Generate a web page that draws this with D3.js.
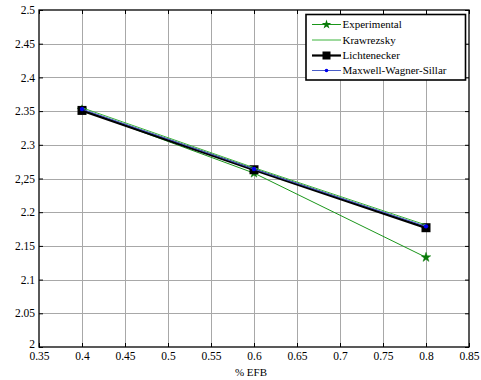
<!DOCTYPE html>
<html>
<head>
<meta charset="utf-8">
<script src="https://cdn.jsdelivr.net/npm/d3@7"></script>
<style>
  html, body { margin: 0; padding: 0; background: #fff; }
</style>
</head>
<body>
<svg id="chart" width="481" height="380"></svg>
<script>
// Dielectric model comparison against % EFB
const efb = [0.4, 0.6, 0.8];
const experimental = [2.352, 2.258, 2.133];
const krawrezsky = [2.355, 2.266, 2.181];
const lichtenecker = [2.351, 2.263, 2.177];
const maxwellWagnerSillar = [2.353, 2.264, 2.179];

const xTicks = [0.35, 0.4, 0.45, 0.5, 0.55, 0.6, 0.65, 0.7, 0.75, 0.8, 0.85];
const xTickLabels = ["0.35", "0.4", "0.45", "0.5", "0.55", "0.6", "0.65", "0.7", "0.75", "0.8", "0.85"];
const yTicks = [2, 2.05, 2.1, 2.15, 2.2, 2.25, 2.3, 2.35, 2.4, 2.45, 2.5];
const yTickLabels = ["2", "2.05", "2.1", "2.15", "2.2", "2,25", "2.3", "2.35", "2.4", "2.45", "2.5"];
const seriesNames = ["Experimental", "Krawrezsky", "Lichtenecker", "Maxwell-Wagner-Sillar"];

const FONT = "'Liberation Serif', 'Times New Roman', serif";

const svg = d3.select("#chart");
const L = 39, R = 469, T = 10, B = 347;

const x = d3.scaleLinear().domain([0.35, 0.85]).range([L, R]);
const y = d3.scaleLinear().domain([2, 2.5]).range([B, T]);

// grid
const grid = svg.append("g");
grid.selectAll("line.gx").data(xTicks.slice(1, -1)).enter().append("line")
  .attr("x1", d => Math.round(x(d)) + 0.5).attr("x2", d => Math.round(x(d)) + 0.5)
  .attr("y1", T).attr("y2", B)
  .attr("stroke", "#a8a8a8").attr("stroke-width", 1);
grid.selectAll("line.gy").data(yTicks.slice(1, -1)).enter().append("line")
  .attr("y1", d => Math.round(y(d)) + 0.5).attr("y2", d => Math.round(y(d)) + 0.5)
  .attr("x1", L).attr("x2", R)
  .attr("stroke", "#a8a8a8").attr("stroke-width", 1);

// axes with inward ticks
const fmtX = d => xTickLabels[xTicks.indexOf(d)];
const fmtY = d => yTickLabels[yTicks.indexOf(d)];

const axB = svg.append("g").attr("transform", `translate(0,${B})`)
  .call(d3.axisBottom(x).tickValues(xTicks).tickFormat(fmtX).tickSizeInner(-4).tickSizeOuter(0).tickPadding(8));
const axT = svg.append("g").attr("transform", `translate(0,${T})`)
  .call(d3.axisTop(x).tickValues(xTicks).tickFormat("").tickSizeInner(-4).tickSizeOuter(0));
const axL = svg.append("g").attr("transform", `translate(${L},0)`)
  .call(d3.axisLeft(y).tickValues(yTicks).tickFormat(fmtY).tickSizeInner(-4).tickSizeOuter(0).tickPadding(4));
const axR = svg.append("g").attr("transform", `translate(${R},0)`)
  .call(d3.axisRight(y).tickValues(yTicks).tickFormat("").tickSizeInner(-4).tickSizeOuter(0));

[axB, axT, axL, axR].forEach(a => {
  a.select(".domain").remove();
  a.attr("font-family", null).attr("font-size", null);
  a.selectAll("line").attr("stroke", "#000");
  a.selectAll("text").style("font-family", FONT).style("font-size", "11.5px").attr("fill", "#000");
});
axL.selectAll("text").attr("dy", "0.32em");
axL.selectAll("text").filter(d => d === 2).attr("dy", "0.05em");
axB.selectAll("text").attr("dy", "0.45em");

// frame
svg.append("rect").attr("x", L).attr("y", T).attr("width", R - L).attr("height", B - T)
  .attr("fill", "none").attr("stroke", "#000").attr("stroke-width", 1.3);

// x label
svg.append("text").attr("x", (L + R) / 2 - 3).attr("y", 376).attr("text-anchor", "middle")
  .style("font-family", FONT).style("font-size", "11px").text("% EFB");

// series
const line = d3.line().x(d => x(d[0])).y(d => y(d[1]));
const zipped = vals => efb.map((e, i) => [e, vals[i]]);
const star = d3.symbol().type(d3.symbolStar).size(28);

function drawSeries(vals, color, width) {
  svg.append("path").datum(zipped(vals)).attr("d", line)
    .attr("fill", "none").attr("stroke", color).attr("stroke-width", width);
}

drawSeries(experimental, "#1a961a", 1);
svg.selectAll("path.star").data(zipped(experimental)).enter().append("path")
  .attr("transform", d => `translate(${x(d[0])},${y(d[1])})`)
  .attr("d", star).attr("fill", "#0a7a0a").attr("stroke", "#0a7a0a").attr("stroke-width", 0.5);

drawSeries(lichtenecker, "#000", 2.6);
svg.selectAll("rect.sq").data(zipped(lichtenecker)).enter().append("rect")
  .attr("x", d => x(d[0]) - 4.5).attr("y", d => y(d[1]) - 4.5)
  .attr("width", 9).attr("height", 9).attr("fill", "#000");

drawSeries(krawrezsky, "#3cb43c", 1);

drawSeries(maxwellWagnerSillar, "#4a5ec8", 1);
svg.selectAll("circle.dot").data(zipped(maxwellWagnerSillar)).enter().append("circle")
  .attr("cx", d => x(d[0])).attr("cy", d => y(d[1])).attr("r", 2.2).attr("fill", "#0000ee");

// legend
const lg = svg.append("g");
lg.append("rect").attr("x", 306).attr("y", 14.5).attr("width", 159.5).attr("height", 65.5)
  .attr("fill", "#fff").attr("stroke", "#000").attr("stroke-width", 1.6);
const rows = [24.5, 40, 55.5, 70.5];
const styles = [
  { color: "#1a961a", width: 1, marker: "star" },
  { color: "#3cb43c", width: 1, marker: null },
  { color: "#000", width: 2.2, marker: "square" },
  { color: "#4a5ec8", width: 1, marker: "dot" }
];
seriesNames.forEach((name, i) => {
  const yy = rows[i];
  const s = styles[i];
  lg.append("line").attr("x1", 312).attr("x2", 341).attr("y1", yy).attr("y2", yy)
    .attr("stroke", s.color).attr("stroke-width", s.width);
  if (s.marker === "star") {
    lg.append("path").attr("transform", `translate(326.5,${yy})`).attr("d", star)
      .attr("fill", "#0a7a0a");
  } else if (s.marker === "square") {
    lg.append("rect").attr("x", 322.5).attr("y", yy - 4).attr("width", 8).attr("height", 8).attr("fill", "#000");
  } else if (s.marker === "dot") {
    lg.append("circle").attr("cx", 326.5).attr("cy", yy).attr("r", 1.8).attr("fill", "#0000ee");
  }
  lg.append("text").attr("x", 342.5).attr("y", yy).attr("dy", "0.35em")
    .style("font-family", FONT).style("font-size", "11px").text(name);
});
</script>
</body>
</html>
